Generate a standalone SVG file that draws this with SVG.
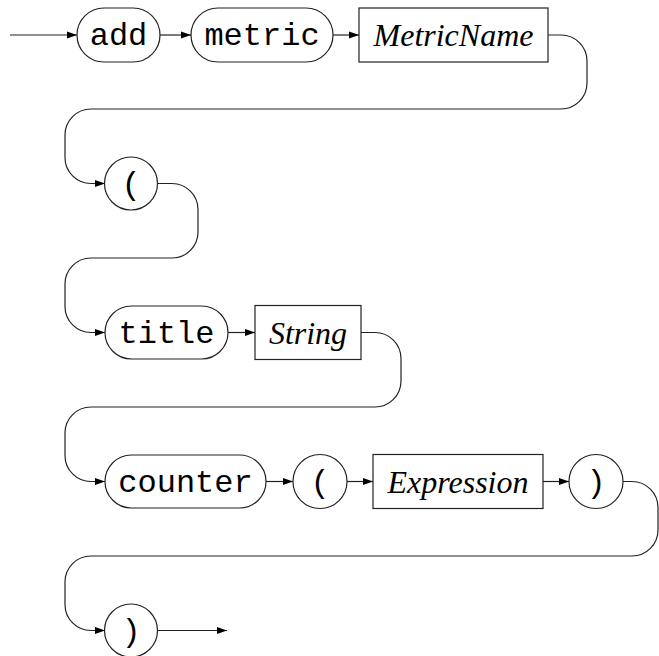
<svg xmlns="http://www.w3.org/2000/svg" width="659" height="656" viewBox="0 0 659 656">
<style>
.n{fill:#fff;stroke:#222;stroke-width:1.2}
.c{fill:none;stroke:#222;stroke-width:1.2}
.t{font-family:"Liberation Mono","Courier New",monospace;font-size:32px;fill:#000;text-anchor:middle}
.v{font-family:"Liberation Serif","Times New Roman",serif;font-style:italic;font-size:32px;fill:#000;text-anchor:middle}
</style>
<defs>
<marker id="a" markerUnits="userSpaceOnUse" markerWidth="10" markerHeight="8" refX="10" refY="4" orient="auto">
<path d="M0,0.6 L10,4 L0,7.4 z" fill="#000"/>
</marker>
</defs>
<rect width="659" height="656" fill="#fff"/>
<g id="connectors" class="c" marker-end="url(#a)">
<path d="M10,35 H77"/>
<path d="M160,35 H191"/>
<path d="M333,35 H359"/>
<path d="M548,35 H561 A26,26 0 0 1 587,61 V83 A26,26 0 0 1 561,109 H91 A26,26 0 0 0 65,135 V157.5 A26,26 0 0 0 91,183.5 H105"/>
<path d="M157.5,183.5 H172 A26,26 0 0 1 198,209.5 V232 A26,26 0 0 1 172,258 H91 A26,26 0 0 0 65,284 V306.5 A26,26 0 0 0 91,332.5 H105"/>
<path d="M228,332.5 H255"/>
<path d="M361,332.5 H375 A26,26 0 0 1 401,358.5 V381 A26,26 0 0 1 375,407 H91 A26,26 0 0 0 65,433 V455.5 A26,26 0 0 0 91,481.5 H105"/>
<path d="M266,481.5 H293"/>
<path d="M347,481.5 H373"/>
<path d="M543,481.5 H569"/>
<path d="M623,481.5 H632 A26,26 0 0 1 658,507.5 V530 A26,26 0 0 1 632,556 H91 A26,26 0 0 0 65,582 V604.5 A26,26 0 0 0 91,630.5 H105"/>
<path d="M157.5,630.5 H227"/>
</g>
<g id="add"><rect class="n" x="77" y="8" width="83" height="54" rx="27"/><text class="t" x="118.5" y="45">add</text></g>
<g id="metric"><rect class="n" x="191" y="8" width="142" height="54" rx="27"/><text class="t" x="262" y="45">metric</text></g>
<g id="MetricName"><rect class="n" x="359" y="8" width="189" height="54"/><text class="v" x="453.5" y="46">MetricName</text></g>
<g id="lparen1"><circle class="n" cx="131" cy="183.5" r="26.5"/><text class="t" x="131" y="194">(</text></g>
<g id="title"><rect class="n" x="105" y="306" width="123" height="53" rx="26.5"/><text class="t" x="166.5" y="343">title</text></g>
<g id="String"><rect class="n" x="255" y="305.5" width="106" height="54"/><text class="v" x="308" y="343.5">String</text></g>
<g id="counter"><rect class="n" x="105" y="455" width="161" height="53" rx="26.5"/><text class="t" x="185.5" y="492">counter</text></g>
<g id="lparen2"><circle class="n" cx="320" cy="481.5" r="27"/><text class="t" x="320" y="492">(</text></g>
<g id="Expression"><rect class="n" x="373" y="454.5" width="170" height="54"/><text class="v" x="458" y="492.5">Expression</text></g>
<g id="rparen1"><circle class="n" cx="596" cy="481.5" r="27"/><text class="t" x="596" y="492">)</text></g>
<g id="rparen2"><circle class="n" cx="131" cy="630.5" r="26.5"/><text class="t" x="131" y="641">)</text></g>
</svg>
